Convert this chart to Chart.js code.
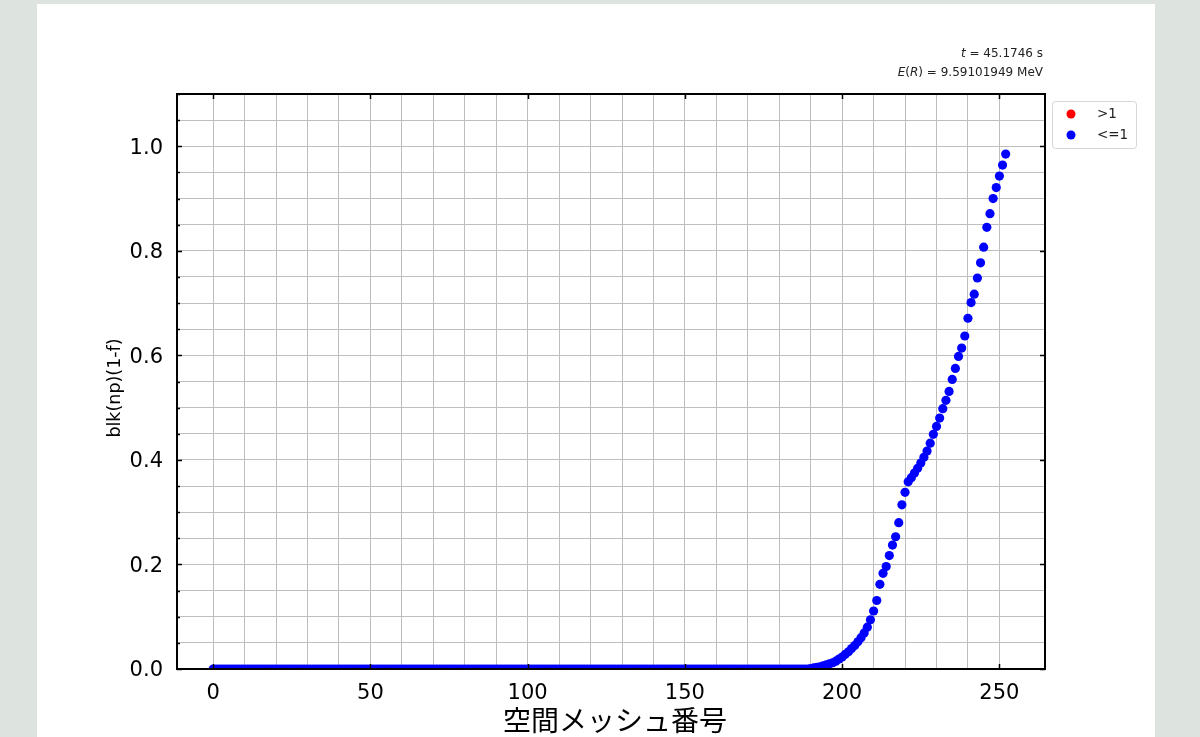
<!DOCTYPE html>
<html>
<head>
<meta charset="utf-8">
<title>blk(np)(1-f)</title>
<script src="https://cdn.jsdelivr.net/npm/chart.js@4.4.1/dist/chart.umd.min.js"></script>
<style>
  html, body { margin: 0; padding: 0; }
  body { background: #dde3df; width: 1200px; height: 737px; position: relative; overflow: hidden; }
  #panel { position: absolute; left: 37px; top: 4px; width: 1118px; height: 740px; background: #fff; }
  #chart { position: absolute; left: 0; top: 0; }
</style>
</head>
<body>
<div id="panel"></div>
<canvas id="chart" width="1200" height="737"></canvas>
<script>
// blk(np)(1-f) per mesh cell, cells 0..189 are flat at zero
const flatValues = [
  0, 0, 0, 0, 0, 0, 0, 0, 0, 0, 0, 0, 0, 0, 0, 0, 0, 0, 0, 0,
  0, 0, 0, 0, 0, 0, 0, 0, 0, 0, 0, 0, 0, 0, 0, 0, 0, 0, 0, 0,
  0, 0, 0, 0, 0, 0, 0, 0, 0, 0, 0, 0, 0, 0, 0, 0, 0, 0, 0, 0,
  0, 0, 0, 0, 0, 0, 0, 0, 0, 0, 0, 0, 0, 0, 0, 0, 0, 0, 0, 0,
  0, 0, 0, 0, 0, 0, 0, 0, 0, 0, 0, 0, 0, 0, 0, 0, 0, 0, 0, 0,
  0, 0, 0, 0, 0, 0, 0, 0, 0, 0, 0, 0, 0, 0, 0, 0, 0, 0, 0, 0,
  0, 0, 0, 0, 0, 0, 0, 0, 0, 0, 0, 0, 0, 0, 0, 0, 0, 0, 0, 0,
  0, 0, 0, 0, 0, 0, 0, 0, 0, 0, 0, 0, 0, 0, 0, 0, 0, 0, 0, 0,
  0, 0, 0, 0, 0, 0, 0, 0, 0, 0, 0, 0, 0, 0, 0, 0, 0, 0, 0, 0,
  0, 0, 0, 0, 0, 0, 0, 0, 0, 0
];
// cells 190..252
const riseValues = [
  0.001, 0.002, 0.003, 0.004, 0.006, 0.008, 0.010, 0.012, 0.015, 0.019,
  0.023, 0.028, 0.033, 0.039, 0.045, 0.052, 0.060, 0.069, 0.080, 0.094,
  0.111, 0.131, 0.162, 0.183, 0.196, 0.217, 0.237, 0.253, 0.280, 0.314,
  0.338, 0.358, 0.366, 0.375, 0.384, 0.394, 0.405, 0.417, 0.432, 0.449,
  0.464, 0.480, 0.498, 0.514, 0.531, 0.554, 0.575, 0.598, 0.614, 0.637,
  0.671, 0.701, 0.717, 0.748, 0.777, 0.807, 0.845, 0.871, 0.900, 0.921,
  0.943, 0.964, 0.985
];
const over1Values = []; // nothing above 1 at this step

const xMajorTicks = [0, 50, 100, 150, 200, 250];
const yMajorTicks = [0, 0.2, 0.4, 0.6, 0.8, 1.0];
const legendLabels = ['>1', '<=1'];
const timeText = '45.1746 s';
const energyText = '9.59101949 MeV';

const blkValues = flatValues.concat(riseValues);
const under1Points = blkValues.map((v, i) => ({ x: i, y: v }));
const over1Points = over1Values.map(p => ({ x: p[0], y: p[1] }));

const FONT = "'DejaVu Sans', sans-serif";

function isMultiple(v, step) {
  return Math.abs(v / step - Math.round(v / step)) < 1e-6;
}

// draws pieces of text (some italic) ending at rightX
function drawRuns(ctx, runs, rightX, y, size) {
  let total = 0;
  runs.forEach(r => {
    ctx.font = (r.it ? 'italic ' : '') + size + 'px ' + FONT;
    r.w = ctx.measureText(r.t).width;
    total += r.w;
  });
  let x = rightX - total;
  runs.forEach(r => {
    ctx.font = (r.it ? 'italic ' : '') + size + 'px ' + FONT;
    ctx.fillText(r.t, x, y);
    x += r.w;
  });
}

const decorations = {
  id: 'decorations',
  afterDraw(chart) {
    const ctx = chart.ctx;
    const a = chart.chartArea;
    const xs = chart.scales.x, ys = chart.scales.y;
    ctx.save();

    // ticks, pointing inwards
    ctx.strokeStyle = '#000';
    ctx.lineWidth = 1.5;
    ctx.beginPath();
    xMajorTicks.forEach(t => {
      const px = Math.round(xs.getPixelForValue(t)) + 0.5;
      ctx.moveTo(px, a.bottom); ctx.lineTo(px, a.bottom - 5);
      ctx.moveTo(px, a.top); ctx.lineTo(px, a.top + 5);
    });
    yMajorTicks.forEach(t => {
      const py = Math.round(ys.getPixelForValue(t)) + 0.5;
      ctx.moveTo(a.left, py); ctx.lineTo(a.left + 5, py);
      ctx.moveTo(a.right, py); ctx.lineTo(a.right - 5, py);
    });
    ys.ticks.forEach(t => {
      if (isMultiple(t.value, 0.2)) return;
      const py = Math.round(ys.getPixelForValue(t.value)) + 0.5;
      ctx.moveTo(a.left, py); ctx.lineTo(a.left + 3, py);
    });
    ctx.stroke();

    // frame
    ctx.lineWidth = 2;
    ctx.strokeRect(a.left, a.top, a.right - a.left, a.bottom - a.top);

    // axis titles
    ctx.fillStyle = '#000';
    ctx.textAlign = 'center';
    ctx.textBaseline = 'middle';
    ctx.font = "28px 'Noto Sans CJK JP', sans-serif";
    ctx.fillText('空間メッシュ番号', 615, 720);
    ctx.save();
    ctx.translate(115, 388);
    ctx.rotate(-Math.PI / 2);
    ctx.font = '17.5px ' + FONT;
    ctx.fillText('blk(np)(1-f)', 0, 0);
    ctx.restore();

    // time / energy note
    ctx.textAlign = 'left';
    ctx.textBaseline = 'alphabetic';
    ctx.fillStyle = '#222';
    drawRuns(ctx, [{ t: 't', it: true }, { t: ' = ' + timeText }], a.right - 2, 57, 12);
    drawRuns(ctx, [{ t: 'E', it: true }, { t: '(' }, { t: 'R', it: true }, { t: ') = ' + energyText }], a.right - 2, 76, 12);

    // legend
    ctx.fillStyle = '#fff';
    ctx.strokeStyle = '#d6d6d6';
    ctx.lineWidth = 1;
    ctx.beginPath();
    ctx.roundRect(1052.5, 101.5, 84, 47, 3);
    ctx.fill();
    ctx.stroke();
    const colors = ['#ff0000', '#0000ff'];
    legendLabels.forEach((lab, i) => {
      const cy = 114 + i * 21;
      ctx.fillStyle = colors[i];
      ctx.beginPath();
      ctx.arc(1071, cy, 4.5, 0, Math.PI * 2);
      ctx.fill();
      ctx.fillStyle = '#222';
      ctx.font = '13.5px ' + FONT;
      ctx.textBaseline = 'middle';
      ctx.fillText(lab, 1097, cy);
    });
    ctx.restore();
  }
};

new Chart(document.getElementById('chart'), {
  type: 'scatter',
  data: {
    datasets: [
      { label: legendLabels[0], data: over1Points, backgroundColor: '#ff0000', pointRadius: 4.6, pointBorderWidth: 0, clip: 0 },
      { label: legendLabels[1], data: under1Points, backgroundColor: '#0000ff', pointRadius: 4.6, pointBorderWidth: 0, clip: 0 }
    ]
  },
  options: {
    responsive: false,
    devicePixelRatio: 1,
    animation: false,
    events: [],
    layout: { padding: { left: 0, top: 94, right: 155, bottom: 0 } },
    plugins: { legend: { display: false }, tooltip: { enabled: false } },
    scales: {
      x: {
        type: 'linear',
        min: -11.5,
        max: 264.5,
        afterFit: s => { s.height = 68; },
        grid: { color: '#bdbdbd', lineWidth: 1, drawTicks: false },
        border: { display: false },
        ticks: {
          stepSize: 10,
          autoSkip: false,
          maxRotation: 0,
          padding: 12,
          color: '#000',
          font: { family: FONT, size: 21 },
          callback: v => isMultiple(v, 50) ? String(Math.round(v)) : ''
        }
      },
      y: {
        type: 'linear',
        min: 0,
        max: 1.1,
        afterFit: s => { s.width = 177; },
        grid: { color: '#bdbdbd', lineWidth: 1, drawTicks: false },
        border: { display: false },
        ticks: {
          stepSize: 0.05,
          autoSkip: false,
          padding: 14,
          labelOffset: 2,
          color: '#000',
          font: { family: FONT, size: 21 },
          callback: v => isMultiple(v, 0.2) ? v.toFixed(1) : ''
        }
      }
    }
  },
  plugins: [decorations]
});
</script>
</body>
</html>
